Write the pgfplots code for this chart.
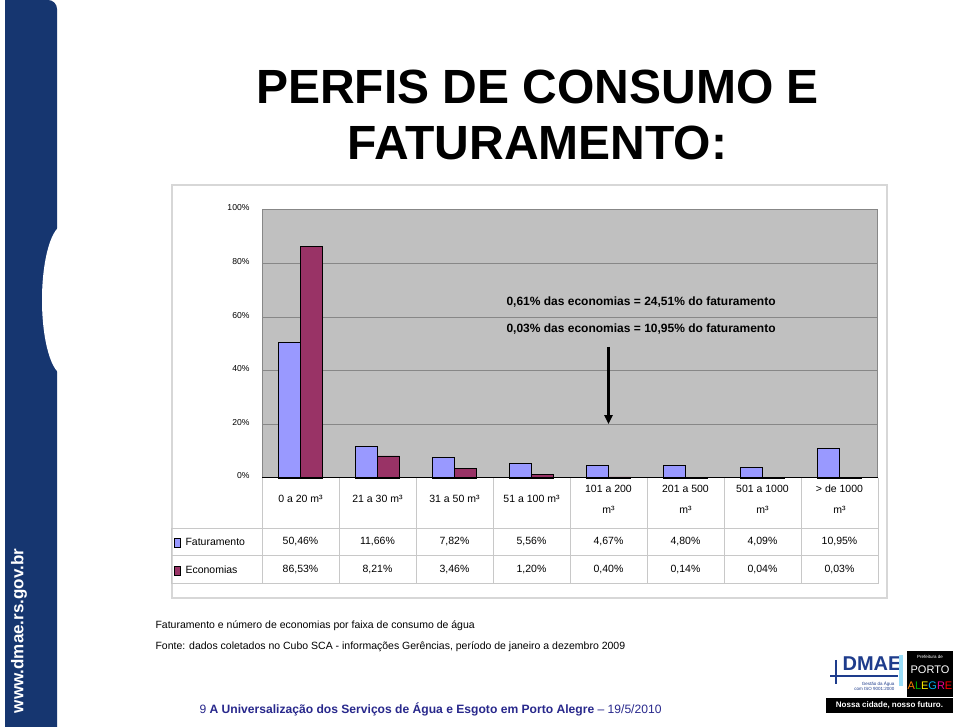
\documentclass[border=0pt]{standalone}
\usepackage{pgfplots}
\pgfplotsset{compat=1.18}
\usetikzlibrary{arrows.meta}
\usepackage{fontspec}
\setmainfont{Liberation Sans}
\definecolor{sidebar}{RGB}{22,54,112}
\definecolor{plotbg}{RGB}{192,192,192}
\definecolor{gridc}{RGB}{135,135,135}
\definecolor{lav}{RGB}{153,153,255}
\definecolor{maroon}{RGB}{153,51,102}
\definecolor{framec}{RGB}{215,215,215}
\definecolor{tablec}{RGB}{200,200,200}
\definecolor{footblue}{RGB}{40,40,140}
\definecolor{dmaeblue}{RGB}{30,60,140}
\begin{document}
\begin{tikzpicture}[x=1pt,y=1pt]
\useasboundingbox (0,0) rectangle (959,727);
\fill[white] (0,0) rectangle (959,727);
% sidebar
\fill[sidebar] (5,0) -- (5,727) -- (48,727) to[out=0,in=90] (57,718) -- (57,0) -- cycle;
\fill[white] (64,727-300) ellipse (22 and 75);
\node[rotate=90, white, font=\bfseries\fontsize{17}{20}\selectfont] at (19,727-631) {www.dmae.rs.gov.br};
% title
\node[font=\bfseries\fontsize{48}{56}\selectfont, anchor=base] at (537.5,727-104) {PERFIS DE CONSUMO E};
\node[font=\bfseries\fontsize{48}{56}\selectfont, anchor=base] at (537.5,727-160) {FATURAMENTO:};
% chart frame
\draw[framec, line width=1.5pt] (172,727-185) rectangle (887,727-598);
\begin{axis}[
  at={(262pt,249pt)}, anchor=south west, scale only axis,
  width=616pt, height=268pt,
  xmin=-0.5, xmax=7.5, ymin=0, ymax=100,
  ybar=0pt, bar width=22pt,
  axis background/.style={fill=plotbg},
  axis line style={draw=gridc, line width=1pt},
  ytick={0,20,40,60,80,100},
  yticklabels={0\%,20\%,40\%,60\%,80\%,100\%},
  yticklabel style={font=\fontsize{8.6}{10}\selectfont, anchor=east, xshift=-9pt, yshift=2pt},
  xtick={0,1,2,3,4,5,6,7},
  xticklabels={0 a 20 m³, 21 a 30 m³, 31 a 50 m³, 51 a 100 m³, {101 a 200\\m³}, {201 a 500\\m³}, {501 a 1000\\m³}, {> de 1000\\m³}},
  xticklabel style={font=\fontsize{10.5}{21}\selectfont, align=center, anchor=center, yshift=-21pt},
  major tick length=0pt,
  ymajorgrids, grid style={draw=gridc, line width=1pt},
  clip=false,
]
\addplot[fill=lav, draw=black, line width=0.6pt] coordinates {(0,50.46) (1,11.66) (2,7.82) (3,5.56) (4,4.67) (5,4.80) (6,4.09) (7,10.95)};
\addplot[fill=maroon, draw=black, line width=0.6pt] coordinates {(0,86.53) (1,8.21) (2,3.46) (3,1.20) (4,0.40) (5,0.14) (6,0.04) (7,0.03)};
\draw[black, line width=1pt] (axis cs:-0.5,0) -- (axis cs:7.5,0);
\draw[-{Triangle[width=8pt,length=9pt]}, line width=2.2pt] (axis cs:4,48.9) -- (axis cs:4,20.1);
\end{axis}
% annotations
\node[anchor=west, font=\bfseries\fontsize{12}{14}\selectfont] at (503,727-302) {0,61\% das economias = 24,51\% do faturamento};
\node[anchor=west, font=\bfseries\fontsize{12}{14}\selectfont] at (503,727-329) {0,03\% das economias = 10,95\% do faturamento};
% table lines
\begin{scope}[tablec, line width=1pt]
\draw (171,727-529) -- (878,727-529);
\draw (171,727-556) -- (878,727-556);
\draw (171,727-584) -- (878,727-584);
\draw (171,727-529) -- (171,727-584);
\foreach \k in {0,...,8} { \draw (262+77*\k,727-478) -- (262+77*\k,727-584); }
\end{scope}
\fill[lav, draw=black, line width=0.5pt] (174,727-547) rectangle (180,727-538);
\fill[maroon, draw=black, line width=0.5pt] (174,727-575) rectangle (180,727-566);
\begin{scope}[font=\fontsize{10.5}{12}\selectfont]
\node[anchor=west] at (182,727-542) {Faturamento};
\node[anchor=west] at (182,727-570) {Economias};
\node at (300.5,727-542) {50,46\%};
\node at (377.5,727-542) {11,66\%};
\node at (454.5,727-542) {7,82\%};
\node at (531.5,727-542) {5,56\%};
\node at (608.5,727-542) {4,67\%};
\node at (685.5,727-542) {4,80\%};
\node at (762.5,727-542) {4,09\%};
\node at (839.5,727-542) {10,95\%};
\node at (300.5,727-570) {86,53\%};
\node at (377.5,727-570) {8,21\%};
\node at (454.5,727-570) {3,46\%};
\node at (531.5,727-570) {1,20\%};
\node at (608.5,727-570) {0,40\%};
\node at (685.5,727-570) {0,14\%};
\node at (762.5,727-570) {0,04\%};
\node at (839.5,727-570) {0,03\%};
\end{scope}
% footer
\node[anchor=west, font=\fontsize{10.5}{12}\selectfont] at (152,727-626) {Faturamento e número de economias por faixa de consumo de água};
\node[anchor=west, font=\fontsize{10.5}{12}\selectfont] at (152,727-647) {Fonte: dados coletados no Cubo SCA - informações Gerências, período de janeiro a dezembro 2009};
\node[anchor=west, text=footblue, font=\fontsize{12.1}{14}\selectfont] at (196,727-709) {9 \textbf{A Universalização dos Serviços de Água e Esgoto em Porto Alegre} – 19/5/2010};
% logo
\node[text=dmaeblue, font=\bfseries\fontsize{20}{20}\selectfont] at (872,727-664) {DMAE};
\draw[dmaeblue, line width=2pt] (830,727-676) -- (898,727-676);
\draw[dmaeblue, line width=2pt] (836,727-660) -- (836,727-684);
\fill[cyan!40] (899,727-655) rectangle (903,727-686);
\node[text=dmaeblue, font=\fontsize{4.5}{5}\selectfont, align=right, anchor=east] at (898,727-686) {Gestão da Água\\com ISO 9001:2000};
\fill[black] (907,727-651) rectangle (953,727-697);
\node[white, font=\fontsize{4.5}{5}\selectfont] at (930,727-657) {Prefeitura de};
\node[white, font=\fontsize{11}{11}\selectfont] at (930,727-670) {PORTO};
\node[font=\fontsize{11}{11}\selectfont] at (930,727-686) {\textcolor{orange}{A}\textcolor{green!70!black}{L}\textcolor{yellow}{E}\textcolor{cyan}{G}\textcolor{magenta}{R}\textcolor{red}{E}};
\fill[black] (826,727-698) rectangle (953,727-713);
\node[white, font=\bfseries\fontsize{8}{9}\selectfont] at (889.5,727-705.5) {Nossa cidade, nosso futuro.};
\end{tikzpicture}
\end{document}
